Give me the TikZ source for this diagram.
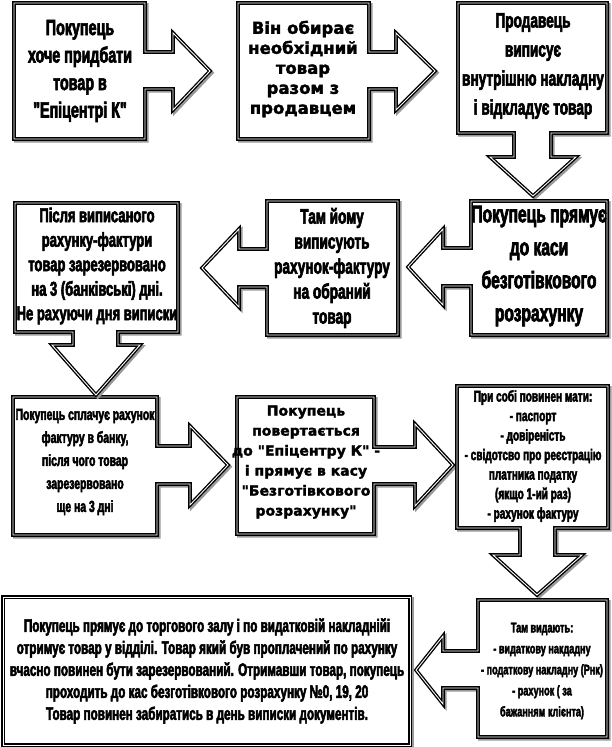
\documentclass[tikz,border=0pt]{standalone}
\usepackage{fontspec}
\usepackage{tikz}
\newfontfamily\narrowfont[FakeStretch=0.65,UprightFont=* Bold,FakeBold=2.8]{Liberation Sans}
\newfontfamily\widefont[UprightFont=* Bold,FakeBold=2]{DejaVu Sans}
\tikzset{
    callout/.style = {fill=white,draw=black,line width=3.6pt,line join=miter,
        preaction={draw=black!40,line width=3.6pt,transform canvas={shift={(1.8pt,-1.8pt)}}},
        postaction={draw=white,line width=0.9pt}},
    narrowtxt/.style 2 args = {align=center,inner sep=0,font=\narrowfont\fontsize{#1}{#2}\selectfont},
    widetxt/.style 2 args = {align=center,inner sep=0,font=\widefont\fontsize{#1}{#2}\selectfont}
}

\begin{document}
\begin{tikzpicture}[x=1pt,y=-1pt]
    \useasboundingbox (0,0) rectangle (611,747);
    % Callouts pointing right
    \draw[callout] (14,3) -- (145,3) -- (145,52) -- (173,52) -- (173,33) -- (210,71)
        -- (173,110) -- (173,89) -- (145,89) -- (145,139) -- (14,139) -- cycle;
    \draw[callout] (238,3) -- (369,3) -- (369,52) -- (396,52) -- (396,33) -- (435,71)
        -- (396,110) -- (396,89) -- (369,89) -- (369,139) -- (238,139) -- cycle;
    \draw[callout] (13,397) -- (157,397) -- (157,446) -- (190,446) -- (190,426) -- (228,465)
        -- (190,505) -- (190,484) -- (157,484) -- (157,535) -- (13,535) -- cycle;
    \draw[callout] (237,397) -- (374,397) -- (374,447) -- (415,447) -- (415,424) -- (453,465)
        -- (415,506) -- (415,484) -- (374,484) -- (374,534) -- (237,534) -- cycle;
    % Callouts pointing down
    \draw[callout] (458,3) -- (607,3) -- (607,133) -- (551,133) -- (551,157) -- (576,157)
        -- (533,196) -- (490,157) -- (514,157) -- (514,133) -- (458,133) -- cycle;
    \draw[callout] (15,203) -- (178,203) -- (178,332) -- (118,332) -- (118,345) -- (140,345)
        -- (96,395) -- (52,345) -- (73,345) -- (73,332) -- (15,332) -- cycle;
    \draw[callout] (457,386) -- (608,386) -- (608,528) -- (555,528) -- (555,555) -- (582,555)
        -- (537,595) -- (493,555) -- (520,555) -- (520,528) -- (457,528) -- cycle;
    % Callouts pointing left
    \draw[callout] (471,201) -- (607,201) -- (607,335) -- (471,335) -- (471,286) -- (443,286)
        -- (443,305) -- (408,267) -- (443,229) -- (443,248) -- (471,248) -- cycle;
    \draw[callout] (267,201) -- (398,201) -- (398,335) -- (267,335) -- (267,287) -- (239,287)
        -- (239,307) -- (202,268) -- (239,229) -- (239,249) -- (267,249) -- cycle;
    \draw[callout] (478,600) -- (607,600) -- (607,737) -- (478,737) -- (478,688) -- (443,688)
        -- (443,704) -- (416,670) -- (443,636) -- (443,651) -- (478,651) -- cycle;
    % Last box
    \draw[callout] (3,597) rectangle (410,745);
    % Texts
    \node[narrowtxt={22}{27.5}] (want) at (80,71) {Покупець\\ хоче придбати\\ товар в\\ "Епіцентрі К"};
    \node[widetxt={16.5}{20}] (choose) at (303,69) {Він обирає\\ необхідний\\ товар\\ разом з\\ продавцем};
    \node[narrowtxt={21}{29}] (seller) at (533,66) {Продавець\\ виписує\\ внутрішню накладну\\ і відкладує товар};
    \node[narrowtxt={24}{33}] (goes) at (539,266) {Покупець прямує\\ до каси\\ безготівкового\\ розрахунку};
    \node[narrowtxt={21}{25}] (invoice) at (332,268) {Там йому\\ виписують\\ рахунок-фактуру\\ на обраний\\ товар};
    \node[narrowtxt={20}{24.5}] (reserved) at (97,266) {Після виписаного\\ рахунку-фактури\\ товар зарезервовано\\ на 3 (банківські) дні.\\ Не рахуючи дня виписки};
    \node[narrowtxt={16}{23}] (pays) at (85,462) {Покупець сплачує рахунок\\ фактуру в банку,\\ після чого товар\\ зарезервовано\\ ще на 3 дні};
    \node[widetxt={14}{20}] (returns) at (306,462) {Покупець\\ повертається\\ до "Епіцентру К" -\\ і прямує в касу\\ "Безготівкового\\ розрахунку"};
    \node[narrowtxt={15.5}{19.5}] (papers) at (533,456) {При собі повинен мати:\\ - паспорт\\ - довіреність\\ - свідотсво про реєстрацію\\ платника податку\\ (якщо 1-ий раз)\\ - рахунок фактуру};
    \node[narrowtxt={18}{22}] (hall) at (207,671) {Покупець прямує до торгового залу і по видатковій накладнійі\\ отримує товар у відділі. Товар який був проплачений по рахунку\\ вчасно повинен бути зарезервований. Отримавши товар, покупець\\ проходить до кас безготівкового розрахунку №0, 19, 20\\ Товар повинен забиратись в день виписки документів.};
    \node[narrowtxt={14}{21}] (issued) at (542,671) {Там видають:\\ - видаткову накдадну\\ - податкову накладну (Рнк)\\ - рахунок ( за\\ бажанням клієнта)};
\end{tikzpicture}
\end{document}
